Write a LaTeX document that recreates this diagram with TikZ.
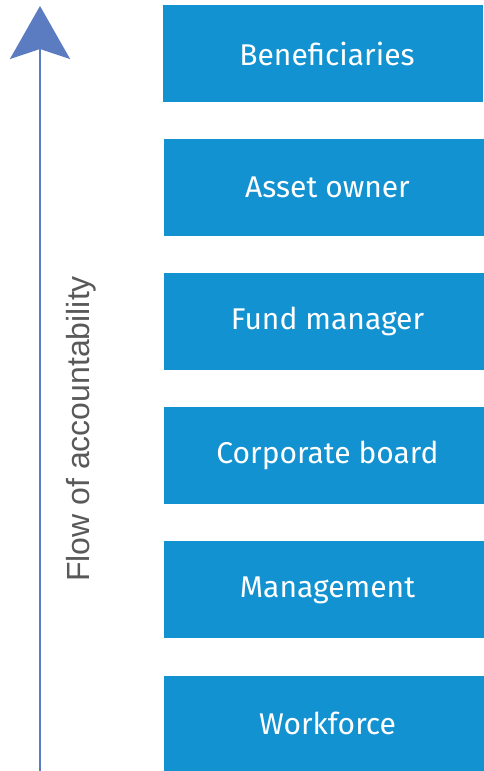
\documentclass[tikz,border=0pt]{standalone}
\usepackage{fontspec}
\setmainfont{Fira Sans}
\newfontfamily\labelfont{Liberation Sans}
\usetikzlibrary{arrows.meta}
\definecolor{boxblue}{HTML}{1292D0}
\definecolor{arrowblue}{HTML}{5B7CC0}
\definecolor{labelgray}{HTML}{595959}
\begin{document}
\begin{tikzpicture}[x=1pt,y=1pt,
  level/.style={fill=boxblue, draw=none, minimum width=320pt, minimum height=97pt,
    inner sep=0pt, text=white, font=\fontsize{30}{36}\selectfont,
    execute at begin node={\hspace*{8pt}}},
  flow/.style={draw=arrowblue, line width=2.5pt,
    -{Stealth[length=53pt, width=60pt, inset=10pt, fill=arrowblue]}}]
\useasboundingbox (0,0) rectangle (483,771);
\node[level] (ben) at (323,717.5) {Beneficiaries};
\node[level] (own) at (323.5,583.5) {Asset owner};
\node[level] (fund) at (323.5,449.5) {Fund manager};
\node[level] (board) at (323.5,315.5) {Corporate board};
\node[level] (mgmt) at (323.5,181) {Management};
\node[level, minimum height=95pt] (work) at (323.5,47.5) {Workforce};
\coordinate (base) at (40,0);
\coordinate (tip) at (40,765);
\draw[flow] (base) -- (tip);
\node[rotate=90, text=labelgray, font=\labelfont\fontsize{32}{38}\selectfont, anchor=center] (lab) at (81.5,342) {Flow of accountability};
\end{tikzpicture}
\end{document}
